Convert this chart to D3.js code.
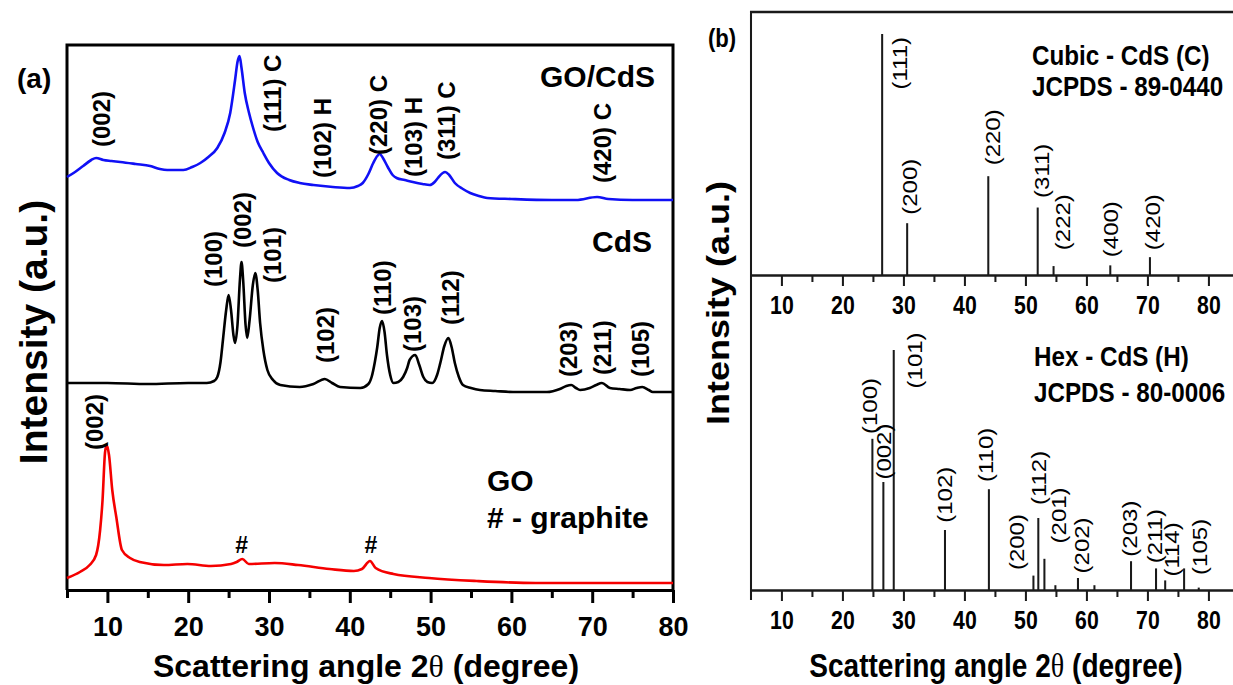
<!DOCTYPE html>
<html>
<head>
<meta charset="utf-8">
<script src="https://cdn.jsdelivr.net/npm/d3@7"></script>
<style>
  body { margin: 0; background: #fff; }
  svg text { font-family: "Liberation Sans", Arial, sans-serif; fill: #000; }
</style>
</head>
<body>
<svg id="chart" width="1233" height="685"></svg>
<script>
// ---------- panel (a): measured patterns, [2theta, intensity a.u.] ----------
const goCds = [[5.0,413],[6.0,418],[7.0,424],[8.0,430],[8.6,432],[9.5,430],[10.5,429],[11.6,428],[13.5,426],
  [15.3,424],[16.5,421],[17.4,420],[19.4,420],[20.5,423],[21.5,427],[22.5,433],[23.6,442],[24.5,457],[25.2,477],[25.8,510],
  [26.1,528],[26.35,534],[26.6,522],[27.0,497],[27.5,478],[28.0,463],[28.6,448],[29.3,437],[30.0,427],[31.0,417],
  [32.5,410],[33.8,407],[35.5,405],[37.9,403],[40.0,402],[41.0,404],[41.6,407],[42.3,416],[42.9,427],[43.4,434],
  [43.7,436],[44.1,432],[44.7,423],[45.3,415],[45.8,412],[46.8,410],[47.8,408],[49.0,406],[49.9,405],[50.5,408],
  [50.9,412],[51.5,417],[51.8,418],[52.3,415],[53.0,407],[54.0,401],[54.9,397],[56.0,394],[57.0,392],[60.0,391],
  [65.0,390],[68.0,390],[70.6,393],[72.0,391],[75.0,390],[80.0,390]];

const cds = [[5,207],[10,207],[15,206],[20,207],[22.3,207],[23.2,209],[23.6,213],[24.0,228],[24.3,250],[24.7,280],
  [25.0,295],[25.3,280],[25.6,255],[25.8,247],[26.1,265],[26.4,310],[26.6,328],[26.8,310],[27.1,265],[27.3,252],
  [27.6,270],[28.0,305],[28.3,317],[28.6,300],[28.9,267],[29.3,240],[29.8,220],[30.5,210],[31.4,205],[33.8,203],
  [35.5,206],[36.9,211],[37.8,207],[38.8,203],[41.3,202],[42.3,206],[42.7,213],[43.1,228],[43.4,243],[43.7,262],
  [44.0,269],[44.3,258],[44.6,235],[45.0,215],[45.4,207],[46.0,208],[46.6,213],[47.1,222],[47.4,230],[48.1,235],
  [48.6,225],[49.1,213],[49.6,208],[50.2,207],[50.8,215],[51.2,227],[51.7,244],[52.2,252],[52.6,243],[53.0,227],
  [53.5,213],[54.0,205],[55.0,202],[56.1,200],[58.0,199],[60.2,198],[64.4,198],[66.0,201],[66.8,204],[67.4,205],
  [68.0,202],[68.5,200],[69.7,202],[70.5,205],[71.2,207],[72.2,202],[73.4,201],[74.7,200],[75.5,202],[76.2,203],
  [77.0,200],[77.5,198],[80,198]];

const go = [[5.0,12],[6.6,18],[7.8,25],[8.6,35],[9.1,60],[9.4,90],[9.7,137],[9.9,145],[10.2,135],[10.6,100],
  [11.1,73],[11.8,40],[12.8,32],[14.0,28],[17.0,25],[19.9,26],[22.8,24],[25.3,26],[26.0,28],[26.7,31],[27.5,26],
  [30.7,27],[33.6,25],[37.5,21],[40.5,19],[41.5,21],[42.5,29],[43.2,22],[45.4,16],[49.8,12],[55.7,9],[63.0,7],
  [72.8,7],[80,7]];

// peak labels (text, 2theta of label, intensity where the label starts)
const goCdsLabels = ["(002)", "(111) C", "(102) H", "(220) C", "(103) H", "(311) C", "(420) C"];
const goCdsLabelTheta = [9.2, 30.4, 36.6, 43.5, 47.9, 52.0, 71.2];
const goCdsLabelLevel = [443, 458, 412, 435, 413, 430, 407];

const cdsLabels = ["(100)", "(002)", "(101)", "(102)", "(110)", "(103)", "(112)", "(203)", "(211)", "(105)"];
const cdsLabelTheta = [23.1, 26.7, 30.4, 37.0, 44.0, 47.8, 52.5, 67.0, 71.2, 76.0];
const cdsLabelLevel = [303, 342, 307, 227, 275, 238, 265, 213, 215, 213];

const goLabels = ["(002)"];
const goLabelTheta = [8.4];
const goLabelLevel = [140];
const graphiteTheta = [26.6, 42.6];
const graphiteLevel = [37, 37];

// ---------- panel (b): JCPDS reference lines ----------
const cubicTheta = [26.5, 30.6, 43.9, 52.0, 54.6, 63.9, 70.4];
const cubicInt   = [100, 21.5, 41, 28, 3.7, 4, 7.4];
const cubicHkl   = ["(111)", "(200)", "(220)", "(311)", "(222)", "(400)", "(420)"];
const cubicLabelTheta = [29.4, 31.0, 44.6, 52.7, 56.1, 64.0, 70.9];
const cubicLabelLevel = [77, 25, 45.5, 32, 10.3, 7.4, 10.3];

const hexTheta = [24.9, 26.7, 28.4, 36.8, 44.0, 51.3, 52.1, 53.1, 54.9, 58.6, 61.3, 67.3, 71.4, 72.9, 76.0, 78.4];
const hexInt   = [63, 45, 100, 25, 42, 6, 30, 13, 2, 5, 2, 12, 9, 4, 9, 1];
const hexHkl   = ["(100)", "(002)", "(101)", "(102)", "(110)", "(200)", "(112)", "(201)", "(202)", "(203)", "(211)", "(114)", "(105)"];
const hexLabelTheta = [24.5, 26.7, 31.8, 36.8, 43.4, 48.5, 52.1, 55.5, 59.2, 67.1, 71.1, 73.9, 78.6];
const hexLabelLevel = [65, 46, 84, 28, 45, 8.3, 35.4, 19.4, 6.9, 13.9, 11.1, 5.6, 6.3];

const majorTicks = [10, 20, 30, 40, 50, 60, 70, 80];
const minorTicks = [5, 15, 25, 35, 45, 55, 65, 75];

const svg = d3.select("#chart");

function rotatedLabels(g, texts, thetas, levels, x, y) {
  g.selectAll(null).data(texts).enter().append("text")
    .attr("transform", (d, i) => `translate(${x(thetas[i])},${y(levels[i])}) rotate(-90)`)
    .attr("dy", "0.36em")
    .text(d => d);
}

// ================= panel (a) =================
const xA = d3.scaleLinear().domain([5, 80]).range([67, 673]);
const yA = d3.scaleLinear().domain([0, 545]).range([590, 45]);
const gA = svg.append("g");

// frame
gA.append("path")
  .attr("d", `M${xA(5)},${yA(0)}V${yA(545)}H${xA(80)}V${yA(0)}`)
  .attr("fill", "none").attr("stroke", "#000").attr("stroke-width", 3);

const lineA = d3.line().x(d => xA(d[0])).y(d => yA(d[1])).curve(d3.curveMonotoneX);
[[goCds, "#1010f5"], [cds, "#000"], [go, "#f50000"]].forEach(([s, c]) => {
  gA.append("path").datum(s).attr("d", lineA)
    .attr("fill", "none").attr("stroke", c).attr("stroke-width", 2.6)
    .attr("stroke-linejoin", "round");
});

// axis
const axA = gA.append("g").attr("transform", `translate(0,${yA(0)})`)
  .call(d3.axisBottom(xA).tickValues(majorTicks).tickSize(13).tickSizeOuter(0).tickPadding(14));
axA.select(".domain").attr("stroke-width", 3);
axA.selectAll(".tick line").attr("stroke-width", 3);
axA.selectAll("text").attr("font-size", 27).attr("font-weight", "bold").attr("font-family", "Liberation Sans, Arial");
gA.append("g").attr("transform", `translate(0,${yA(0)})`)
  .call(d3.axisBottom(xA).tickValues(minorTicks).tickSize(8).tickFormat(""))
  .call(g => g.select(".domain").remove())
  .selectAll(".tick line").attr("stroke-width", 3);

const labA = gA.append("g").attr("font-size", 24).attr("font-weight", "bold");
rotatedLabels(labA, goCdsLabels, goCdsLabelTheta, goCdsLabelLevel, xA, yA);
rotatedLabels(labA, cdsLabels, cdsLabelTheta, cdsLabelLevel, xA, yA);
rotatedLabels(labA, goLabels, goLabelTheta, goLabelLevel, xA, yA);
labA.selectAll(null).data(graphiteTheta).enter().append("text")
  .attr("x", d => xA(d)).attr("y", (d, i) => yA(graphiteLevel[i]))
  .attr("text-anchor", "middle").attr("font-size", 23).text("#");

const namesA = gA.append("g").attr("font-size", 30).attr("font-weight", "bold");
namesA.append("text").attr("x", 540).attr("y", 87).text("GO/CdS");
namesA.append("text").attr("x", 592).attr("y", 252).text("CdS");
namesA.append("text").attr("x", 487).attr("y", 491).text("GO");
namesA.append("text").attr("x", 487).attr("y", 528).text("# - graphite");

svg.append("text").attr("x", 17).attr("y", 88).attr("font-size", 28).attr("font-weight", "bold").text("(a)");
svg.append("text").attr("transform", "translate(33,332) rotate(-90)")
  .attr("text-anchor", "middle").attr("dy", "0.36em")
  .attr("font-size", 39).attr("font-weight", "bold").text("Intensity (a.u.)");
const titleA = svg.append("text").attr("x", 366).attr("y", 677).attr("text-anchor", "middle")
  .attr("font-size", 32).attr("font-weight", "bold");
titleA.append("tspan").text("Scattering angle 2");
titleA.append("tspan").attr("font-family", "Liberation Serif, Times New Roman").attr("font-weight", "normal").text("\u03B8");
titleA.append("tspan").text(" (degree)");

// ================= panel (b) =================
// panel (b) is horizontally compressed in the source figure
const squeeze = 0.85;
const gB = svg.append("g").attr("transform", `translate(751,0) scale(${squeeze},1)`);
const xB = d3.scaleLinear().domain([5, 85]).range([0, 80 * 6.1 / squeeze]);
const yC = d3.scaleLinear().domain([0, 100]).range([275, 34]);
const yH = d3.scaleLinear().domain([0, 100]).range([590, 350]);
const inkB = "#1a1a1a";

gB.append("path")
  .attr("d", `M${xB(85)},12H${xB(5)}V600`)
  .attr("fill", "none").attr("stroke", inkB).attr("stroke-width", 2.4);

function stickAxis(y0) {
  const ax = gB.append("g").attr("transform", `translate(0,${y0})`)
    .call(d3.axisBottom(xB).tickValues(majorTicks).tickSize(11).tickSizeOuter(0).tickPadding(10));
  ax.select(".domain").attr("stroke", inkB).attr("stroke-width", 2.4);
  ax.selectAll(".tick line").attr("stroke", inkB).attr("stroke-width", 2.4);
  ax.selectAll("text").attr("font-size", 25).attr("font-weight", "bold").attr("font-family", "Liberation Sans, Arial");
  gB.append("g").attr("transform", `translate(0,${y0})`)
    .call(d3.axisBottom(xB).tickValues(minorTicks.slice(1)).tickSize(7).tickFormat(""))
    .call(g => g.select(".domain").remove())
    .selectAll(".tick line").attr("stroke", inkB).attr("stroke-width", 2.4);
}
stickAxis(yC(0));
stickAxis(yH(0));

gB.append("g").selectAll("line").data(cubicTheta).enter().append("line")
  .attr("x1", d => xB(d)).attr("x2", d => xB(d))
  .attr("y1", yC(0)).attr("y2", (d, i) => yC(cubicInt[i]))
  .attr("stroke", inkB).attr("stroke-width", 2.4);
gB.append("g").selectAll("line").data(hexTheta).enter().append("line")
  .attr("x1", d => xB(d)).attr("x2", d => xB(d))
  .attr("y1", yH(0)).attr("y2", (d, i) => yH(hexInt[i]))
  .attr("stroke", inkB).attr("stroke-width", 2.4);

const labB = gB.append("g").attr("font-size", 24);
rotatedLabels(labB, cubicHkl, cubicLabelTheta, cubicLabelLevel, xB, yC);
rotatedLabels(labB, hexHkl, hexLabelTheta, hexLabelLevel, xB, yH);

const namesB = gB.append("g").attr("font-size", 28.5).attr("font-weight", "bold");
namesB.append("text").attr("x", (1032 - 751) / squeeze).attr("y", 65).text("Cubic - CdS (C)");
namesB.append("text").attr("x", (1032 - 751) / squeeze).attr("y", 96).text("JCPDS - 89-0440");
namesB.append("text").attr("x", (1034 - 751) / squeeze).attr("y", 366).text("Hex - CdS (H)");
namesB.append("text").attr("x", (1034 - 751) / squeeze).attr("y", 402).text("JCPDS - 80-0006");

gB.append("text").attr("x", (708 - 751) / squeeze).attr("y", 47)
  .attr("font-size", 26).attr("font-weight", "bold").text("(b)");
gB.append("text").attr("transform", `translate(${(718 - 751) / squeeze},303) rotate(-90)`)
  .attr("text-anchor", "middle").attr("dy", "0.36em")
  .attr("font-size", 36).attr("font-weight", "bold").text("Intensity (a.u.)");
const titleB = gB.append("text").attr("x", (996 - 751) / squeeze).attr("y", 677).attr("text-anchor", "middle")
  .attr("font-size", 33).attr("font-weight", "bold");
titleB.append("tspan").text("Scattering angle 2");
titleB.append("tspan").attr("font-family", "Liberation Serif, Times New Roman").attr("font-weight", "normal").text("\u03B8");
titleB.append("tspan").text(" (degree)");
</script>
</body>
</html>
